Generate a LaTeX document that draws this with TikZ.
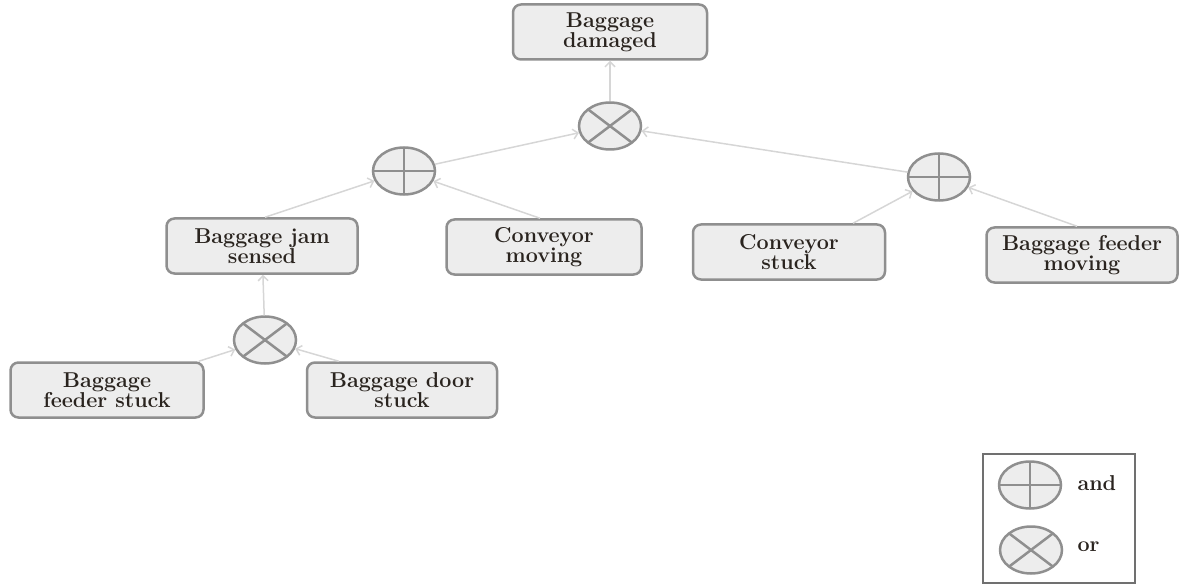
\documentclass[tikz,border=0pt]{standalone}
\usepackage{fontspec}
\usetikzlibrary{shapes.geometric,arrows.meta,calc}
\definecolor{boxfill}{HTML}{EDEDED}
\definecolor{boxline}{HTML}{8F8F8F}
\definecolor{wire}{HTML}{D6D6D6}
\definecolor{ink}{HTML}{2A241F}
\definecolor{frame}{HTML}{707070}
\begin{document}
\begin{tikzpicture}[x=1pt,y=-1pt,
  event/.style={draw=boxline, fill=boxfill, line width=2.5pt, rounded corners=8pt,
    minimum width=#1, minimum height=55pt, align=center, text=ink, inner sep=0pt,
    font=\bfseries\fontsize{21.5}{20}\selectfont},
  gate/.style={ellipse, draw=boxline, fill=boxfill, line width=2.5pt,
    minimum width=62pt, minimum height=47pt, inner sep=0pt},
  andgate/.style={gate, path picture={
    \draw[boxline, line width=2.5pt]
      (path picture bounding box.north) -- (path picture bounding box.south)
      (path picture bounding box.west) -- (path picture bounding box.east);}},
  orgate/.style={gate, path picture={
    \draw[boxline, line width=2.5pt]
      ($(path picture bounding box.center)!0.707!(path picture bounding box.north east)$) --
      ($(path picture bounding box.center)!0.707!(path picture bounding box.south west)$)
      ($(path picture bounding box.center)!0.707!(path picture bounding box.north west)$) --
      ($(path picture bounding box.center)!0.707!(path picture bounding box.south east)$);}},
  link/.style={draw=wire, line width=1.5pt, -{Straight Barb[length=5pt,width=10pt]}},
  legendtext/.style={text=ink, font=\bfseries\fontsize{21.5}{20}\selectfont, anchor=west}
]
\useasboundingbox (0,0) rectangle (1186,588);

% events
\node[event=194pt] (damaged) at (610,32) {Baggage\\damaged};
\node[event=195pt] (cmoving) at (544,247) {Conveyor\\moving};
\node[event=191pt] (jam) at (262,246) {Baggage jam\\sensed};
\node[event=192pt] (cstuck) at (789,252) {Conveyor\\stuck};
\node[event=191pt] (fmoving) at (1082,255) {Baggage feeder\\moving};
\node[event=193pt] (fstuck) at (107,390) {Baggage\\feeder stuck};
\node[event=190pt] (dstuck) at (402,390) {Baggage door\\stuck};

% gates
\node[orgate] (ortop) at (610,126) {};
\node[andgate] (andl) at (404,171) {};
\node[andgate] (andr) at (939,177) {};
\node[orgate] (orlow) at (265,340) {};

% connections
\draw[link] (ortop) -- (damaged);
\draw[link] (andl) -- (ortop);
\draw[link] (andr) -- (ortop);
\draw[link] ([xshift=3pt]jam.north) -- (andl);
\draw[link] ([xshift=-4pt]cmoving.north) -- (andl);
\draw[link] ([xshift=64pt]cstuck.north) -- (andr);
\draw[link] ([xshift=-5pt]fmoving.north) -- (andr);
\draw[link] (orlow) -- (jam);
\draw[link] ([xshift=-6pt]fstuck.north east) -- (orlow);
\draw[link] ([xshift=33pt]dstuck.north west) -- (orlow);

% legend
\node[draw=frame, line width=2pt, minimum width=152pt, minimum height=129pt, inner sep=0pt]
  (legend) at (1059,518.5) {};
\node[andgate] (legand) at (1030,485) {};
\node[orgate] (legor) at (1031,550) {};
\node[legendtext] (andlabel) at (1074,483) {and};
\node[legendtext] (orlabel) at (1074,547) {or};
\end{tikzpicture}
\end{document}
